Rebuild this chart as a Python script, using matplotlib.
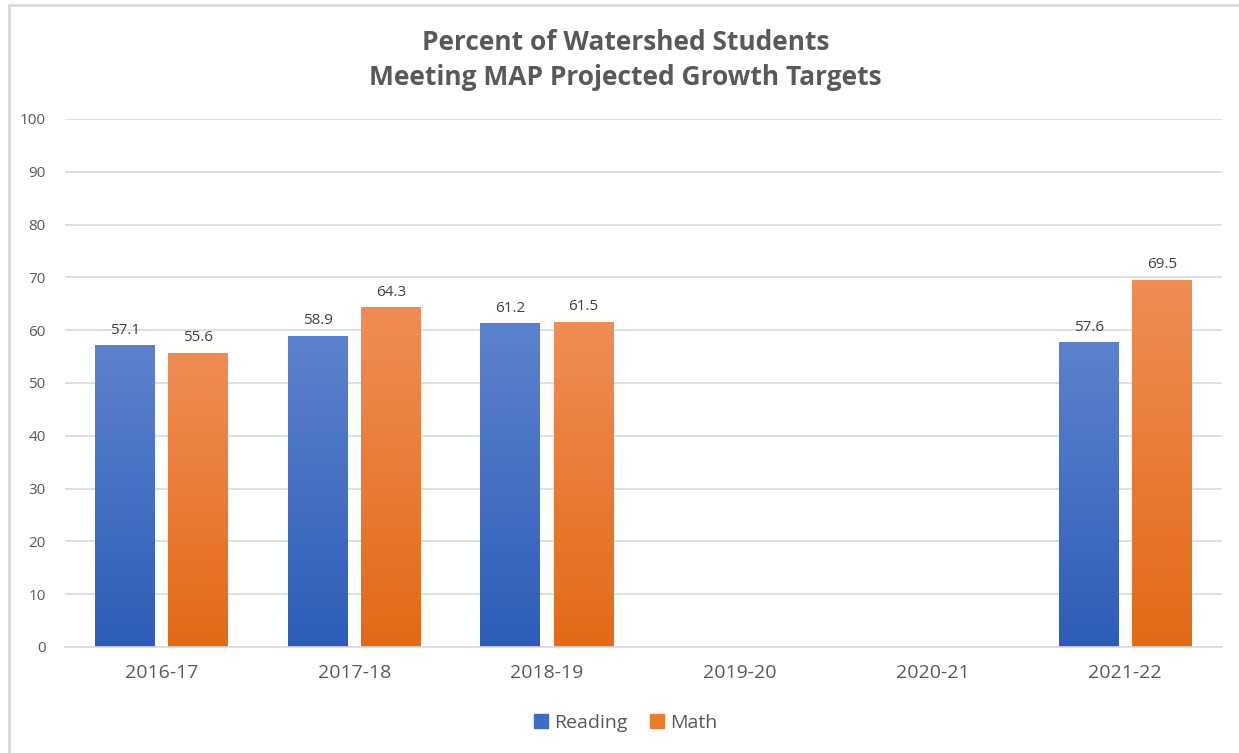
import numpy as np
from matplotlib import pyplot as plt
from matplotlib.colors import LinearSegmentedColormap
from matplotlib.patches import Rectangle, Patch

plt.rcParams['font.family'] = ['Open Sans', 'DejaVu Sans']

years = ['2016-17', '2017-18', '2018-19', '2019-20', '2020-21', '2021-22']
reading = [57.1, 58.9, 61.2, np.nan, np.nan, 57.6]
math = [55.6, 64.3, 61.5, np.nan, np.nan, 69.5]

gray = '#595959'
blue_cm = LinearSegmentedColormap.from_list('b', ['#2d5db8', '#5d82cd'])
orange_cm = LinearSegmentedColormap.from_list('o', ['#e26a16', '#f08d55'])

fig = plt.figure(figsize=(12.39, 7.53), dpi=100)
ax = fig.add_axes([0.0525, 0.1408, 0.9335, 0.7012])

x = np.arange(len(years))
w = 0.31
off = 0.19
grad = np.linspace(0, 1, 256).reshape(-1, 1)

for vals, dx, cm, lab in [(reading, -off, blue_cm, 'Reading'), (math, off, orange_cm, 'Math')]:
    bars = ax.bar(x + dx, vals, w, color='none', label=lab)
    for b, v in zip(bars, vals):
        if np.isnan(v):
            continue
        x0, y0 = b.get_x(), b.get_y()
        ax.imshow(grad, cmap=cm, origin='lower', aspect='auto', zorder=2,
                  extent=[x0, x0 + b.get_width(), y0, y0 + b.get_height()])
        ax.text(b.get_x() + b.get_width() / 2, v + 1.5, '{:.1f}'.format(v),
                ha='center', va='bottom', fontsize=11, color='#404040')

ax.set_xlim(-0.5, len(years) - 0.5)
ax.set_ylim(0, 100)
ax.set_yticks(range(0, 101, 10))
ax.set_xticks(x)
ax.set_xticklabels(years, fontsize=14, color=gray)
ax.tick_params(axis='y', labelsize=11, labelcolor=gray, length=0, pad=14)
ax.tick_params(axis='x', length=0, pad=12)
ax.grid(axis='y', color='#d9d9d9', linewidth=1.2, zorder=0)
ax.set_axisbelow(True)
for s in ['top', 'right', 'left']:
    ax.spines[s].set_visible(False)
ax.spines['bottom'].set_color('#d9d9d9')
ax.spines['bottom'].set_linewidth(1.2)

fig.text(0.505, 0.92, 'Percent of Watershed Students\nMeeting MAP Projected Growth Targets',
         ha='center', va='center', fontsize=19, fontweight='bold', color=gray, linespacing=1.4)

handles = [Patch(color='#3f6cc4', label='Reading'), Patch(color='#ee7a2e', label='Math')]
fig.legend(handles=handles, loc='center', bbox_to_anchor=(0.505, 0.04), ncol=2, frameon=False,
           fontsize=14, labelcolor=gray, handlelength=0.7, handleheight=0.7, handletextpad=0.3,
           columnspacing=1.2)

fig.patches.append(Rectangle((9 / 1239, -0.1), 1.2, 0.1 + 1 - 5 / 753, transform=fig.transFigure,
                             fill=False, edgecolor='#d9d9d9', linewidth=2))

plt.savefig('out.png')
